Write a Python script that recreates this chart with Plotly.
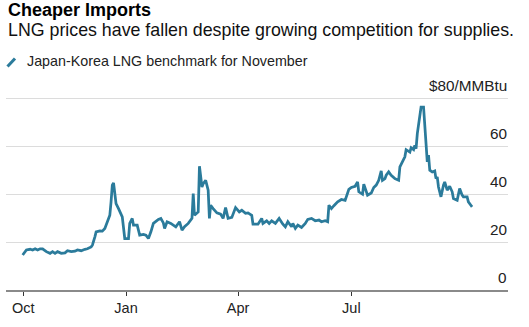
import plotly.graph_objects as go

# Japan-Korea Marker (JKM) LNG benchmark for November delivery, $/MMBtu
dates = [
    "2021-10-10", "2021-10-13", "2021-10-16", "2021-10-18", "2021-10-20", "2021-10-22",
    "2021-10-24", "2021-10-26", "2021-10-29", "2021-11-01", "2021-11-03", "2021-11-05",
    "2021-11-07", "2021-11-10", "2021-11-13", "2021-11-15", "2021-11-18", "2021-11-21",
    "2021-11-23", "2021-11-26", "2021-11-29", "2021-12-01", "2021-12-04", "2021-12-05",
    "2021-12-07", "2021-12-08", "2021-12-11", "2021-12-13", "2021-12-15", "2021-12-17",
    "2021-12-19", "2021-12-20", "2021-12-21", "2021-12-22", "2021-12-23", "2021-12-24",
    "2021-12-26", "2021-12-28", "2021-12-29", "2021-12-31", "2022-01-03", "2022-01-04",
    "2022-01-06", "2022-01-07", "2022-01-10", "2022-01-12", "2022-01-15", "2022-01-17",
    "2022-01-19", "2022-01-21", "2022-01-23", "2022-01-27", "2022-01-29", "2022-01-31",
    "2022-02-01", "2022-02-03", "2022-02-06", "2022-02-10", "2022-02-12", "2022-02-13",
    "2022-02-15", "2022-02-17", "2022-02-20", "2022-02-23", "2022-02-24", "2022-02-25",
    "2022-02-28", "2022-03-01", "2022-03-03", "2022-03-04", "2022-03-06", "2022-03-08",
    "2022-03-09", "2022-03-10", "2022-03-12", "2022-03-15", "2022-03-18", "2022-03-20",
    "2022-03-22", "2022-03-24", "2022-03-27", "2022-03-30", "2022-04-02", "2022-04-04",
    "2022-04-07", "2022-04-09", "2022-04-12", "2022-04-13", "2022-04-17", "2022-04-20",
    "2022-04-21", "2022-04-24", "2022-04-26", "2022-04-28", "2022-05-01", "2022-05-04",
    "2022-05-07", "2022-05-09", "2022-05-11", "2022-05-14", "2022-05-15", "2022-05-17",
    "2022-05-19", "2022-05-22", "2022-05-25", "2022-05-27", "2022-05-30", "2022-06-02",
    "2022-06-05", "2022-06-07", "2022-06-10", "2022-06-12", "2022-06-13", "2022-06-15",
    "2022-06-17", "2022-06-20", "2022-06-23", "2022-06-26", "2022-06-29", "2022-07-01",
    "2022-07-04", "2022-07-06", "2022-07-07", "2022-07-10", "2022-07-11", "2022-07-14",
    "2022-07-17", "2022-07-19", "2022-07-21", "2022-07-23", "2022-07-25", "2022-07-26",
    "2022-07-28", "2022-07-29", "2022-07-31", "2022-08-02", "2022-08-05", "2022-08-08",
    "2022-08-09", "2022-08-11", "2022-08-13", "2022-08-14", "2022-08-17", "2022-08-18",
    "2022-08-20", "2022-08-21", "2022-08-22", "2022-08-23", "2022-08-25", "2022-08-26",
    "2022-08-28", "2022-08-29", "2022-08-30", "2022-08-31", "2022-09-01", "2022-09-02",
    "2022-09-04", "2022-09-06", "2022-09-07", "2022-09-08", "2022-09-09", "2022-09-10",
    "2022-09-11", "2022-09-13", "2022-09-14", "2022-09-16", "2022-09-18", "2022-09-20",
    "2022-09-21", "2022-09-24", "2022-09-26", "2022-09-28", "2022-09-29", "2022-10-02",
    "2022-10-03", "2022-10-05", "2022-10-06",
]

prices = [
    14.6, 16.7, 17.0, 16.7, 17.2, 16.7,
    17.2, 17.2, 16.0, 15.3, 16.0, 15.3,
    16.0, 15.3, 15.5, 16.4, 16.0, 16.2,
    16.7, 16.4, 17.0, 17.2, 18.0, 18.7,
    22.2, 24.3, 24.7, 24.6, 25.7, 28.5,
    31.2, 36.8, 43.8, 44.7, 38.9, 36.1,
    34.0, 32.0, 30.5, 21.5, 21.5, 27.8,
    29.9, 27.1, 27.1, 22.9, 23.2, 22.9,
    21.5, 24.3, 27.8, 29.5, 29.9, 28.0,
    25.7, 28.5, 27.8, 26.4, 27.8, 28.5,
    25.0, 26.4, 27.8, 29.9, 40.3, 31.2,
    32.6, 51.7, 43.0, 44.4, 45.8, 41.7,
    29.9, 35.4, 34.0, 32.2, 31.7, 29.9,
    34.4, 29.9, 30.3, 34.4, 32.6, 33.3,
    32.0, 32.2, 31.2, 27.5, 27.5, 29.9,
    27.8, 28.9, 27.8, 28.9, 27.8, 29.9,
    27.5, 26.4, 28.5, 26.4, 27.8, 25.7,
    27.1, 26.1, 27.8, 29.5, 29.9, 28.9,
    29.2, 28.5, 28.9, 28.5, 35.4, 34.0,
    35.2, 36.8, 37.8, 37.4, 42.0, 42.8,
    43.3, 45.1, 41.0, 40.0, 44.2, 39.6,
    40.5, 42.8, 43.8, 45.8, 49.7, 45.8,
    46.5, 47.9, 49.3, 47.9, 46.5, 45.8,
    51.4, 53.5, 55.6, 58.6, 57.6, 59.4,
    58.6, 60.4, 59.0, 65.3, 73.6, 76.4,
    76.4, 68.0, 58.3, 53.5, 56.3, 50.0,
    49.3, 49.7, 46.5, 47.2, 43.0, 40.3,
    38.9, 43.8, 45.1, 41.7, 43.3, 41.0,
    38.2, 37.5, 42.4, 39.6, 38.9, 38.9,
    36.8, 35.4, 34.7,
]

x_tick_vals = ["2021-10-10 12:00", "2022-01-01", "2022-04-01", "2022-07-01"]
x_tick_text = ["Oct", "Jan", "Apr", "Jul"]
y_tick_vals = [0, 20, 40, 60, 80]
y_tick_text = ["0", "20", "40", "60", "$80/MMBtu"]

LINE_COLOR = "#2b7b9b"
FONT = "Liberation Sans, Arial, Helvetica, sans-serif"

W, H = 529, 327
M_L, M_R, M_T, M_B = 6, 21, 96, 37
PLOT_H = H - M_T - M_B


def py(pixel_y):
    """Convert a page pixel row to paper y for the plot area."""
    return (H - M_B - pixel_y) / PLOT_H


def px(pixel_x):
    return (pixel_x - M_L) / (W - M_L - M_R)


fig = go.Figure()
fig.add_trace(go.Scatter(
    x=dates, y=prices, mode="lines",
    line=dict(color=LINE_COLOR, width=2.75),
    showlegend=False, hoverinfo="skip",
))

annotations = [
    dict(text="<b>Cheaper Imports</b>", x=px(6), y=py(10), xref="paper", yref="paper",
         xanchor="left", yanchor="middle", showarrow=False,
         font=dict(family=FONT, size=18, color="#000000")),
    dict(text="LNG prices have fallen despite growing competition for supplies.",
         x=px(6), y=py(30), xref="paper", yref="paper",
         xanchor="left", yanchor="middle", showarrow=False,
         font=dict(family=FONT, size=17.8, color="#111111")),
    dict(text="Japan-Korea LNG benchmark for November",
         x=px(25), y=py(61.5), xref="paper", yref="paper",
         xanchor="left", yanchor="middle", showarrow=False,
         font=dict(family=FONT, size=14.3, color="#222222")),
]
for v, t in zip(y_tick_vals, y_tick_text):
    annotations.append(dict(
        text=t, x=1, y=v, xref="paper", yref="y",
        xanchor="right", yanchor="middle", yshift=13, xshift=1, showarrow=False,
        font=dict(family=FONT, size=15.3, color="#222222"),
    ))

fig.update_layout(
    width=W, height=H,
    margin=dict(l=M_L, r=M_R, t=M_T, b=M_B, pad=0),
    paper_bgcolor="white", plot_bgcolor="white",
    annotations=annotations,
    shapes=[dict(type="line", xref="paper", yref="paper",
                 x0=px(7.5), y0=py(66.5), x1=px(15), y1=py(58.5),
                 line=dict(color=LINE_COLOR, width=3))],
    xaxis=dict(
        type="date",
        range=["2021-09-26 14:40", "2022-11-03 20:00"],
        tickvals=x_tick_vals, ticktext=x_tick_text,
        ticks="outside", ticklen=4, tickwidth=1, tickcolor="#333333",
        showline=True, linecolor="#8a8a8a", linewidth=2,
        showgrid=False, zeroline=False,
        tickfont=dict(family=FONT, size=14.5, color="#222222"),
    ),
    yaxis=dict(
        range=[0, 81],
        tickvals=[20, 40, 60, 80],
        showticklabels=False, ticks="",
        showgrid=True, gridcolor="#dcdcdc", gridwidth=1,
        zeroline=False, showline=False,
    ),
)

fig.write_html("out.html")
